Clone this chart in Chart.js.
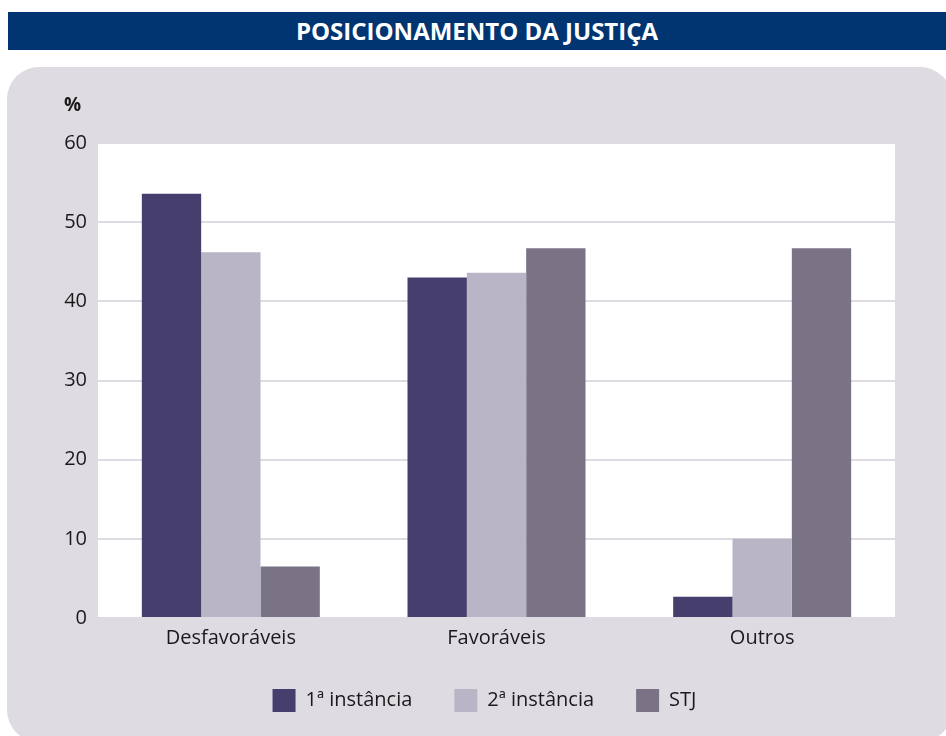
<!DOCTYPE html>
<html>
<head>
<meta charset="utf-8">
<script src="https://cdn.jsdelivr.net/npm/chart.js@4.4.1/dist/chart.umd.min.js"></script>
<style>
  html, body { margin: 0; padding: 0; background: #fff; }
  body { width: 946px; height: 736px; position: relative; overflow: hidden; font-family: "Open Sans", sans-serif; }
  .titulo {
    position: absolute; left: 8px; top: 12px; width: 938px; height: 38px;
    background: #003572; color: #fff; font-weight: 700; font-size: 24px;
    line-height: 38px; text-align: center;
  }
  .painel {
    position: absolute; left: 7px; top: 67px; width: 945px; height: 675px;
    background: #dfdbe2; border-radius: 32px;
  }
  .grafico { position: absolute; left: 0; top: 68px; width: 946px; height: 668px; }
</style>
</head>
<body>
<div class="titulo">POSICIONAMENTO DA JUSTIÇA</div>
<div class="painel"></div>
<div class="grafico"><canvas id="grafico"></canvas></div>
<script>
// dados (%)
const categorias = ["Desfavoráveis", "Favoráveis", "Outros"];
const instancias = ["1ª instância", "2ª instância", "STJ"];
const primeiraInstancia = [53.6, 43.0, 2.7];
const segundaInstancia = [46.2, 43.6, 10.0];
const stj = [6.5, 46.7, 46.7];
const cores = ["#463f6e", "#bab5c6", "#7a7385"];
const ticksY = [0, 10, 20, 30, 40, 50, 60];

// fundo branco da área do gráfico + rótulo "%"
const fundoArea = {
  id: "fundoArea",
  afterLayout(chart) {
    // legenda um pouco à direita, como no original
    const lg = chart.legend;
    if (lg) { lg.left += 37; lg.right += 37; }
  },
  beforeDraw(chart) {
    const { ctx, chartArea } = chart;
    ctx.save();
    ctx.fillStyle = "#ffffff";
    ctx.fillRect(chartArea.left, chartArea.top, chartArea.right - chartArea.left, chartArea.bottom - chartArea.top);
    ctx.restore();
  },
  afterDraw(chart) {
    const { ctx, chartArea } = chart;
    ctx.save();
    ctx.fillStyle = "#1a1a1a";
    ctx.font = "700 19px 'Open Sans'";
    ctx.textAlign = "left";
    ctx.textBaseline = "middle";
    ctx.fillText("%", chartArea.left - 34, chartArea.top - 37);
    ctx.restore();
  }
};

Chart.defaults.font.family = "'Open Sans', sans-serif";
Chart.defaults.color = "#1a1a1a";

new Chart(document.getElementById("grafico"), {
  type: "bar",
  data: {
    labels: categorias,
    datasets: [
      { label: instancias[0], data: primeiraInstancia, backgroundColor: cores[0] },
      { label: instancias[1], data: segundaInstancia, backgroundColor: cores[1] },
      { label: instancias[2], data: stj, backgroundColor: cores[2] }
    ]
  },
  options: {
    responsive: true,
    maintainAspectRatio: false,
    animation: false,
    datasets: { bar: { categoryPercentage: 0.67, barPercentage: 1.0, borderWidth: 0 } },
    layout: { padding: { top: 75, right: 51, bottom: 14, left: 0 } },
    plugins: {
      tooltip: { enabled: false },
      legend: {
        position: "bottom",
        labels: { boxWidth: 23, boxHeight: 23, padding: 42, font: { size: 20 }, color: "#1a1a1a" }
      }
    },
    scales: {
      x: {
        grid: { display: false, drawTicks: false },
        border: { display: false },
        ticks: { padding: 8, font: { size: 20 }, color: "#1a1a1a" },
        afterFit(scale) { scale.height = 29; }
      },
      y: {
        min: 0, max: 60,
        afterBuildTicks(scale) { scale.ticks = ticksY.map(v => ({ value: v })); },
        afterFit(scale) { scale.width = 98; },
        grid: { color: "#dedbe2", lineWidth: 2, drawTicks: false },
        border: { display: false },
        ticks: { padding: 11, font: { size: 20 }, color: "#1a1a1a" }
      }
    }
  },
  plugins: [fundoArea]
});
</script>
</body>
</html>
